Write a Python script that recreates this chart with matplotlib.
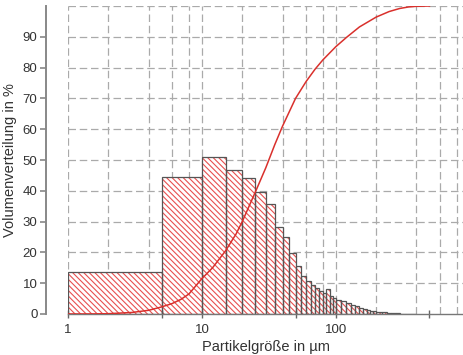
import numpy as np
import matplotlib
matplotlib.use("Agg")
import matplotlib.pyplot as plt
from matplotlib.ticker import FixedLocator, NullFormatter

plt.rcParams['font.family'] = ['Liberation Sans', 'DejaVu Sans']
plt.rcParams['hatch.linewidth'] = 0.8

# bin edges in um and bar heights in %
bin_edges = [1, 5, 10, 15, 20, 25, 30, 35, 40, 45, 50, 55, 60, 65, 70, 75, 80, 85, 90, 95, 100,
             110, 120, 130, 140, 150, 160, 170, 180, 190, 200,
             220, 240, 260, 280, 300, 320, 340, 360, 380, 400]
bar_heights = [13.5, 44.6, 50.9, 46.7, 44.0, 39.5, 35.7, 28.4, 24.9, 19.9,
               15.6, 12.5, 10.8, 9.4, 8.6, 7.6, 6.9, 8.0, 5.8, 5.3,
               4.7, 4.1, 3.5, 3.0, 2.5, 2.1, 1.7, 1.4, 1.1, 0.9,
               0.7, 0.5, 0.35, 0.25, 0.18, 0.12, 0.08, 0.05, 0.03, 0.02]

# cumulative curve
cum_size = [1, 1.5, 2, 3, 4, 5, 6, 7, 8, 10, 12, 15, 18, 20, 25, 30, 35, 40, 50, 60, 70, 80,
            100, 120, 150, 200, 250, 300, 350, 400, 500]
cum_vals = [0, 0.02, 0.1, 0.5, 1.2, 2.3, 3.4, 4.8, 6.5, 11.5, 15, 20.5, 26, 30, 39.5, 47.5,
            55, 61, 70, 75.5, 79.5, 82.5, 86.8, 89.8, 93.2, 96.4, 98.2, 99.2, 99.7, 99.9, 100]

grid_x = [1, 2, 4, 6, 8, 10, 20, 40, 60, 80, 100, 200, 400, 600, 800]
grid_y = [10, 20, 30, 40, 50, 60, 70, 80, 90, 100]
y_ticks = [0, 10, 20, 30, 40, 50, 60, 70, 80, 90]
x_ticks = [1, 5, 10, 50, 100, 500]
x_labels = ['1', '', '10', '', '100', '']

fig = plt.figure(figsize=(4.64, 3.55), dpi=100)
ax = fig.add_axes([68 / 464, 41 / 355, 395 / 464, 308 / 355])
ax.set_xscale('log')
ax.set_xlim(1, 890)
ax.set_ylim(0, 100)

for gx in grid_x:
    ax.axvline(gx, color='#aaaaaa', lw=0.9, ls=(0, (6, 3)), zorder=0)
for gy in grid_y:
    ax.axhline(gy, color='#aaaaaa', lw=0.9, ls=(0, (6, 3)), zorder=0)

lefts = np.array(bin_edges[:-1])
widths = np.diff(bin_edges)
ax.bar(lefts, bar_heights, width=widths, align='edge', color='white',
       edgecolor='#e8504f', hatch='\\\\\\\\\\\\', linewidth=0, zorder=1)
ax.bar(lefts, bar_heights, width=widths, align='edge', fill=False,
       edgecolor='#555555', linewidth=0.9, zorder=2)

ax.plot(cum_size, cum_vals, color='#d9302c', lw=1.1, zorder=3)

for s in ['top', 'right']:
    ax.spines[s].set_visible(False)
ax.spines['left'].set_position(('outward', 16))
ax.spines['left'].set_color('#888888')
ax.spines['left'].set_linewidth(1.4)
ax.spines['bottom'].set_color('#777777')
ax.spines['bottom'].set_linewidth(1.0)

ax.set_yticks(y_ticks)
ax.tick_params(axis='y', colors='#888888', labelcolor='#333333', length=4, width=1.2,
               labelsize=9.5, pad=2)
ax.xaxis.set_major_locator(FixedLocator(x_ticks))
ax.set_xticklabels(x_labels)
ax.xaxis.set_minor_locator(FixedLocator([]))
ax.xaxis.set_minor_formatter(NullFormatter())
ax.tick_params(axis='x', colors='#666666', labelcolor='#333333', length=6, width=1.0,
               direction='inout', labelsize=9.5, pad=4)

ax.set_xlabel('Partikelgröße in µm', fontsize=10.5, color='#333333', labelpad=3)
ax.set_ylabel('Volumenverteilung in %', fontsize=10.5, color='#333333', labelpad=4)

fig.savefig('out.png', dpi=100)
